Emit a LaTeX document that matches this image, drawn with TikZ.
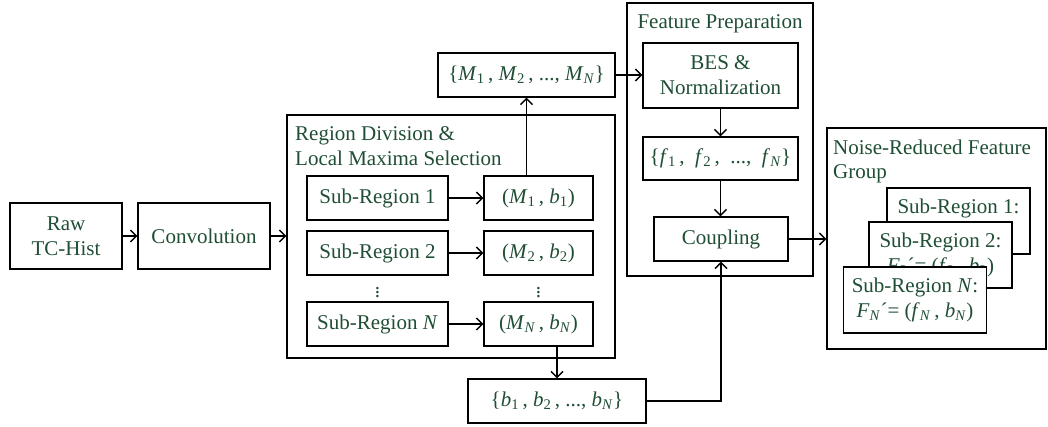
\documentclass[tikz,border=0pt]{standalone}
\usepackage{fontspec}
\setmainfont{Liberation Serif}
\usetikzlibrary{arrows.meta}
\definecolor{labelgreen}{RGB}{31,78,52}
% italic symbol with an upright or italic subscript
\newcommand\sym[2]{\textit{#1}\textsubscript{#2}}
\newcommand\symN[1]{\textit{#1}\textsubscript{\textit{N}}}
\begin{document}
\begin{tikzpicture}[x=1pt,y=-1pt,
  box/.style={draw, line width=1.4pt, text=labelgreen, inner sep=0pt, align=center,
    font=\fontsize{21}{25}\selectfont},
  group/.style={draw, line width=1.4pt, inner sep=0pt},
  title/.style={text=labelgreen, inner sep=0pt, align=left, font=\fontsize{21}{24.5}\selectfont},
  card/.style={box, fill=white, minimum width=143pt, minimum height=66pt},
  dots/.style={text=labelgreen, inner sep=0pt, font=\fontsize{21}{25}\selectfont},
  conn/.style={line width=1.4pt, -{Straight Barb[length=6pt,width=12pt]}}]
\useasboundingbox (0,0) rectangle (1048,427);

% grouping frames and their headings
\node[group, minimum width=328pt, minimum height=243pt] (region) at (451,236.5) {};
\node[title, anchor=north west] (regiontitle) at (295,126.5) {Region Division \&\\Local Maxima Selection};
\node[group, minimum width=186pt, minimum height=273pt] (prep) at (720,139.5) {};
\node[title, anchor=north] (preptitle) at (720,14.5) {Feature Preparation};
\node[group, minimum width=219pt, minimum height=221pt] (noise) at (936.5,238.5) {};
\node[title, anchor=north west] (noisetitle) at (833,139.5) {Noise-Reduced Feature\\Group};

% input stage
\node[box, minimum width=112pt, minimum height=66pt] (raw) at (66,236) {Raw\\TC-Hist};
\node[box, minimum width=132pt, minimum height=66pt] (conv) at (204,236) {Convolution};

% sub-regions and their local maxima
\node[box, minimum width=141pt, minimum height=44pt] (sr1) at (377.5,198) {Sub-Region 1};
\node[box, minimum width=141pt, minimum height=44pt] (sr2) at (377.5,253) {Sub-Region 2};
\node[box, minimum width=141pt, minimum height=44pt] (srN) at (377.5,324) {Sub-Region \textit{N}};
\node[box, minimum width=109pt, minimum height=44pt] (mb1) at (538.5,198) {(\sym{M}{1}\,, \sym{b}{1})};
\node[box, minimum width=109pt, minimum height=44pt] (mb2) at (538.5,253) {(\sym{M}{2}\,, \sym{b}{2})};
\node[box, minimum width=109pt, minimum height=44pt] (mbN) at (538.5,324) {(\symN{M}\,, \symN{b})};
\node[dots] (vd1) at (377.5,290) {$\vdots$};
\node[dots] (vd2) at (538.5,290) {$\vdots$};

% collected maxima and bins
\node[box, minimum width=177pt, minimum height=44pt] (Mset) at (526.5,75) {\{\sym{M}{1}\,, \sym{M}{2}\,, ..., \symN{M}\}};
\node[box, minimum width=178pt, minimum height=44pt] (bset) at (557,401) {\{\sym{b}{1}\,, \sym{b}{2}\,, ..., \symN{b}\}};

% feature preparation
\node[box, minimum width=155pt, minimum height=65pt] (bes) at (720.5,75.5) {BES \&\\Normalization};
\node[box, minimum width=155pt, minimum height=43pt] (fset) at (720.5,158.5) {\{\sym{f}{1}\,,\enspace\sym{f}{2}\,,\enspace...,\enspace\symN{f}\}};
\node[box, minimum width=134pt, minimum height=44pt] (coup) at (721,239) {Coupling};

% stacked feature cards
\node[card] (card1) at (958.5,221) {Sub-Region 1:\\\textit{F}\textsubscript{1}´= (\sym{f}{1}\,, \sym{b}{1})};
\node[card] (card2) at (940.5,255) {Sub-Region 2:\\\textit{F}\textsubscript{2}´= (\sym{f}{2}\,, \sym{b}{2})};
\node[card] (cardN) at (915,300) {Sub-Region \textit{N}:\\\symN{F}´= (\symN{f}\,, \symN{b})};

% connectors
\draw[conn] (raw.east) -- (conv.west);
\draw[conn] (conv.east) -- (conv.east -| region.west);
\draw[conn] (sr1.east) -- (mb1.west);
\draw[conn] (sr2.east) -- (mb2.west);
\draw[conn] (srN.east) -- (mbN.west);
\draw[conn] (mb1.north -| Mset.south) -- (Mset.south);
\draw[conn] (Mset.east) -- (Mset.east -| bes.west);
\draw[conn] (bes.south) -- (fset.north);
\draw[conn] (fset.south) -- (fset.south |- coup.north);
\draw[conn] (mbN.south -| bset.north) -- (bset.north);
\draw[conn] (bset.east) -| (coup.south);
\draw[conn] (coup.east) -- (coup.east -| noise.west);
\end{tikzpicture}
\end{document}
